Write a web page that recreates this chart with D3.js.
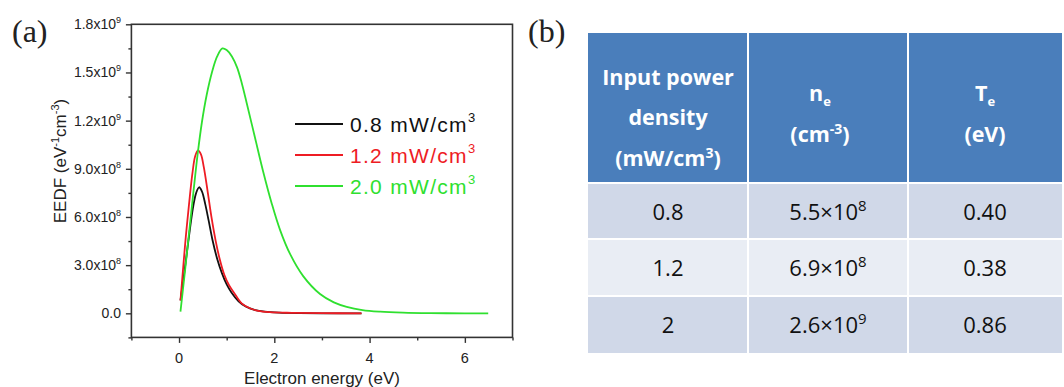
<!DOCTYPE html>
<html>
<head>
<meta charset="utf-8">
<script src="https://cdn.jsdelivr.net/npm/d3@7"></script>
<style>
  body { margin: 0; background: #fff; }
  svg { display: block; }
</style>
</head>
<body>
<script>
// (a) EEDF curves, EEDF in units of 1e8 eV^-1 cm^-3
var energy08 = [0.03, 0.10, 0.17, 0.24, 0.30, 0.36, 0.42, 0.48, 0.55, 0.62, 0.70, 0.80, 0.90, 1.00, 1.10, 1.25, 1.40, 1.60, 1.80, 2.10, 2.50, 3.00, 3.83];
var eedf08   = [0.8, 2.3, 3.9, 5.5, 6.7, 7.5, 7.85, 7.6, 6.8, 5.8, 4.6, 3.4, 2.5, 1.8, 1.3, 0.75, 0.42, 0.2, 0.1, 0.04, 0.01, 0, 0];

var energy12 = [0.03, 0.08, 0.14, 0.21, 0.28, 0.34, 0.40, 0.46, 0.52, 0.60, 0.68, 0.77, 0.86, 0.95, 1.05, 1.15, 1.32, 1.50, 1.66, 1.90, 2.37, 3.00, 3.83];
var eedf12   = [0.8, 2.6, 4.7, 6.8, 8.7, 9.8, 10.15, 9.9, 9.1, 7.6, 6.0, 4.5, 3.3, 2.4, 1.75, 1.3, 0.6, 0.3, 0.15, 0.07, 0.03, 0.01, 0];

var energy20 = [0.03, 0.12, 0.21, 0.30, 0.39, 0.48, 0.58, 0.69, 0.80, 0.91, 1.00, 1.11, 1.22, 1.32, 1.42, 1.59, 1.76, 1.95, 2.12, 2.33, 2.61, 2.96, 3.25, 3.52, 3.85, 4.22, 4.70, 5.27, 6.00, 6.49];
var eedf20   = [0.1, 2.5, 5.0, 7.5, 9.9, 11.9, 13.6, 15.0, 16.0, 16.5, 16.4, 16.0, 15.3, 14.3, 13.1, 11.0, 8.9, 6.8, 5.2, 3.7, 2.3, 1.2, 0.68, 0.4, 0.2, 0.1, 0.04, 0.01, 0, 0];

var seriesNames  = ["0.8 mW/cm", "1.2 mW/cm", "2.0 mW/cm"];
var seriesColors = ["#111111", "#ee1c24", "#2fe02f"];

var xTicks = [0, 2, 4, 6];
var yTicks = [0, 3, 6, 9, 12, 15, 18];
var yTickLabels = ["0.0", "3.0x10|8", "6.0x10|8", "9.0x10|8", "1.2x10|9", "1.5x10|9", "1.8x10|9"];

// (b) table
var powerDensity = ["0.8", "1.2", "2"];
var neMantissa   = ["5.5", "6.9", "2.6"];
var neExponent   = ["8", "8", "9"];
var electronTemp = ["0.40", "0.38", "0.86"];

var svg = d3.select("body").append("svg")
  .attr("width", 1064)
  .attr("height", 387);

var x = d3.scaleLinear().domain([-1, 7]).range([131.4, 512.5]);
var y = d3.scaleLinear().domain([-1.5, 18]).range([337.4, 24.3]);

var sans = "Liberation Sans, Arial, sans-serif";
var axisColor = "#333";

// minor + major ticks
var xAxis = d3.axisBottom(x).tickValues(d3.range(-1, 7.01, 1)).tickFormat("").tickSizeOuter(0)
  .tickSize(5);
var gx = svg.append("g").attr("transform", "translate(0," + y(-1.5) + ")").call(xAxis);
gx.selectAll(".tick line").attr("y2", d => xTicks.includes(d) ? 5.5 : 3);

var yAxis = d3.axisLeft(y).tickValues(d3.range(-1.5, 18.01, 1.5)).tickFormat("").tickSizeOuter(0)
  .tickSize(5);
var gy = svg.append("g").attr("transform", "translate(" + x(-1) + ",0)").call(yAxis);
gy.selectAll(".tick line").attr("x2", d => yTicks.some(t => Math.abs(t - d) < 1e-6) ? -5.5 : -3);

svg.selectAll(".domain").remove();
svg.selectAll(".tick line").attr("stroke", axisColor).attr("stroke-width", 1.4);

svg.append("rect")
  .attr("x", x(-1)).attr("y", y(18))
  .attr("width", x(7) - x(-1)).attr("height", y(-1.5) - y(18))
  .attr("fill", "none").attr("stroke", axisColor).attr("stroke-width", 1.6);

// tick labels
svg.append("g").selectAll("text").data(xTicks).join("text")
  .attr("x", d => x(d)).attr("y", 363)
  .attr("text-anchor", "middle")
  .attr("font-family", sans).attr("font-size", 14.5).attr("fill", "#222")
  .text(d => d);

var yl = svg.append("g").selectAll("text").data(yTicks).join("text")
  .attr("x", 121).attr("y", d => y(d) + 5)
  .attr("text-anchor", "end")
  .attr("font-family", sans).attr("font-size", 14).attr("fill", "#222");
yl.each(function(d, i) {
  var parts = yTickLabels[i].split("|");
  var t = d3.select(this);
  t.append("tspan").text(parts[0]);
  if (parts[1]) t.append("tspan").attr("dy", -6).attr("font-size", 9).text(parts[1]);
});

// axis titles
svg.append("text")
  .attr("x", 322).attr("y", 384)
  .attr("text-anchor", "middle")
  .attr("font-family", sans).attr("font-size", 17).attr("fill", "#222")
  .text("Electron energy (eV)");

var yt = svg.append("text")
  .attr("transform", "translate(66,161) rotate(-90)")
  .attr("text-anchor", "middle")
  .attr("font-family", sans).attr("font-size", 17).attr("fill", "#222");
yt.append("tspan").text("EEDF (eV");
yt.append("tspan").attr("dy", -7).attr("font-size", 11).text("-1");
yt.append("tspan").attr("dy", 7).text("cm");
yt.append("tspan").attr("dy", -7).attr("font-size", 11).text("-3");
yt.append("tspan").attr("dy", 7).text(")");

// curves
var seriesData = [
  d3.zip(energy08, eedf08),
  d3.zip(energy12, eedf12),
  d3.zip(energy20, eedf20)
];
var line = d3.line().x(d => x(d[0])).y(d => y(d[1])).curve(d3.curveCatmullRom);

svg.append("g").selectAll("path").data(seriesData).join("path")
  .attr("d", line)
  .attr("fill", "none")
  .attr("stroke", (d, i) => seriesColors[i])
  .attr("stroke-width", 1.8);

// legend
var legendY = [124, 155, 186];
var lg = svg.append("g").selectAll("g").data(seriesNames).join("g")
  .attr("transform", (d, i) => "translate(0," + legendY[i] + ")");
lg.append("line")
  .attr("x1", 295).attr("x2", 343)
  .attr("stroke", (d, i) => seriesColors[i]).attr("stroke-width", 1.8);
var lt = lg.append("text")
  .attr("x", 350).attr("y", 8)
  .attr("font-family", sans).attr("font-size", 21).attr("letter-spacing", 1.3)
  .attr("fill", (d, i) => seriesColors[i]);
lt.append("tspan").text(d => d);
lt.append("tspan").attr("dy", -10).attr("font-size", 13).attr("letter-spacing", 0).text("3");

// panel labels
svg.append("text").attr("x", 12).attr("y", 42)
  .attr("font-family", "Liberation Serif, Times New Roman, serif").attr("font-size", 32).attr("fill", "#222")
  .text("(a)");
svg.append("text").attr("x", 528).attr("y", 42)
  .attr("font-family", "Liberation Serif, Times New Roman, serif").attr("font-size", 32).attr("fill", "#222")
  .text("(b)");

// table
var tableFont = "Open Sans, Noto Sans, sans-serif";
var colEdges = [588, 748, 908, 1062];
var colCenter = i => (colEdges[i] + colEdges[i + 1]) / 2;
var headTop = 33, headBottom = 182;
var rowEdges = [184, 239, 296, 353];
var rowFill = ["#d0d8e8", "#e9edf4", "#d0d8e8"];

var tg = svg.append("g");
tg.selectAll("rect.head").data([0, 1, 2]).join("rect")
  .attr("class", "head")
  .attr("x", i => colEdges[i] + (i ? 1 : 0)).attr("y", headTop)
  .attr("width", i => colEdges[i + 1] - colEdges[i] - (i ? 1 : 0) - (i < 2 ? 1 : 0))
  .attr("height", headBottom - headTop)
  .attr("fill", "#4a7ebb");

powerDensity.forEach((p, r) => {
  [0, 1, 2].forEach(c => {
    tg.append("rect")
      .attr("x", colEdges[c] + (c ? 1 : 0)).attr("y", rowEdges[r] + (r ? 1 : 0))
      .attr("width", colEdges[c + 1] - colEdges[c] - (c ? 1 : 0) - (c < 2 ? 1 : 0))
      .attr("height", (r < 2 ? rowEdges[r + 1] : rowEdges[r] + 57) - rowEdges[r] - (r ? 1 : 0) - (r < 2 ? 1 : 0))
      .attr("fill", rowFill[r]);
  });
});

var headText = (cx, cy) => tg.append("text")
  .attr("x", cx).attr("y", cy)
  .attr("text-anchor", "middle")
  .attr("font-family", tableFont).attr("font-weight", "bold").attr("font-size", 21.5)
  .attr("fill", "#fff");

headText(colCenter(0), 85).text("Input power");
headText(colCenter(0), 125).text("density");
var h3 = headText(colCenter(0), 166);
h3.append("tspan").text("(mW/cm");
h3.append("tspan").attr("dy", -8).attr("font-size", 14).text("3");
h3.append("tspan").attr("dy", 8).text(")");

var ne = headText(colCenter(1) - 8, 101);
ne.append("tspan").text("n");
ne.append("tspan").attr("dy", 5).attr("font-size", 13).text("e");
var neU = headText(colCenter(1) - 8, 142);
neU.append("tspan").text("(cm");
neU.append("tspan").attr("dy", -8).attr("font-size", 14).text("-3");
neU.append("tspan").attr("dy", 8).text(")");

var te = headText(colCenter(2), 101);
te.append("tspan").text("T");
te.append("tspan").attr("dy", 5).attr("font-size", 13).text("e");
headText(colCenter(2), 142).text("(eV)");

var bodyText = (cx, cy) => tg.append("text")
  .attr("x", cx).attr("y", cy)
  .attr("text-anchor", "middle")
  .attr("font-family", tableFont).attr("font-size", 22)
  .attr("fill", "#111");

powerDensity.forEach((p, r) => {
  var cy = (rowEdges[r] + (r < 2 ? rowEdges[r + 1] : rowEdges[r] + 57)) / 2 + 8;
  bodyText(colCenter(0), cy).text(p);
  var t = bodyText(colCenter(1), cy);
  t.append("tspan").text(neMantissa[r] + "\u00d710");
  t.append("tspan").attr("dy", -9).attr("font-size", 15).text(neExponent[r]);
  bodyText(colCenter(2), cy).text(electronTemp[r]);
});
</script>
</body>
</html>
